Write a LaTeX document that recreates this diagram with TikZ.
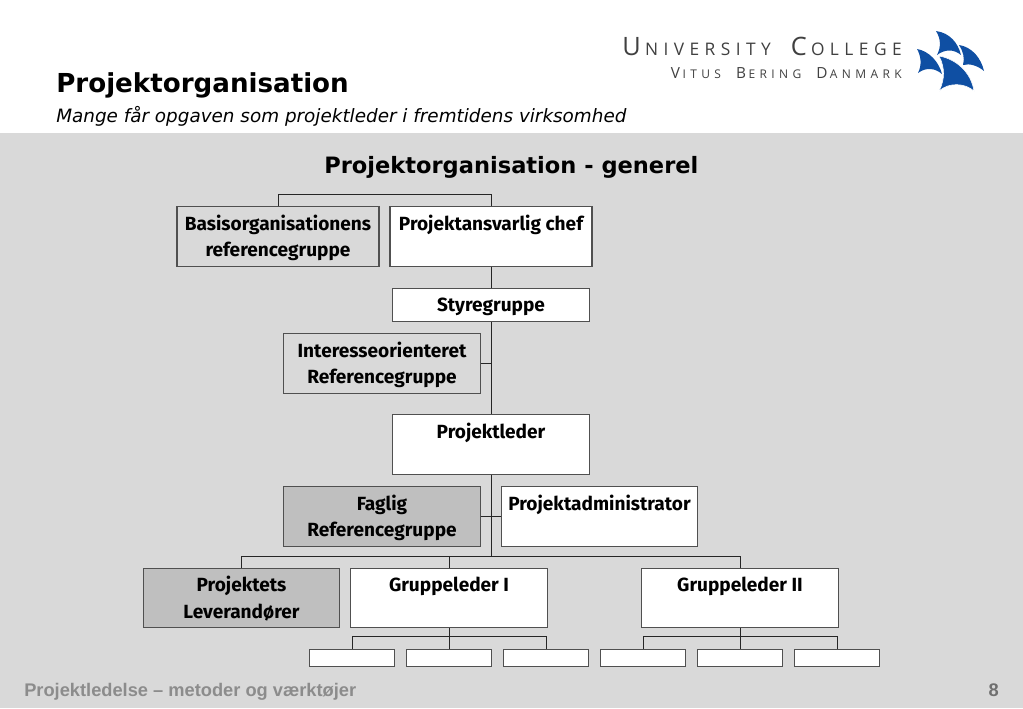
\documentclass[tikz,border=0pt]{standalone}
\usepackage{fontspec}
\setmainfont{DejaVu Sans}
\newfontfamily\boxfont{Fira Sans}
\newfontfamily\footfont{Liberation Sans}
\newfontfamily\logofont[LetterSpace=31.5]{Open Sans}
\newfontfamily\logofontb[LetterSpace=36.5]{Open Sans}
\definecolor{panel}{HTML}{D9D9D9}
\definecolor{darkbox}{HTML}{BFBFBF}
\definecolor{boxline}{HTML}{505050}
\definecolor{sail}{HTML}{0F4FA3}
\definecolor{foot}{HTML}{8C8C8C}
\definecolor{pagenr}{HTML}{707070}
\definecolor{logotext}{HTML}{404040}
\tikzset{
  orgbox/.style={draw=boxline,line width=.85pt,inner sep=0pt,align=center,text=black,
    font=\boxfont\bfseries\fontsize{14.3}{20}\selectfont},
  big/.style={orgbox,minimum width=147.5pt,minimum height=44.5pt,text height=33.7pt,text depth=3pt},
  wide/.style={big,minimum width=151.5pt},
  wht/.style={fill=white},
  drk/.style={fill=darkbox},
  leaf/.style={draw=boxline,line width=.85pt,inner sep=0pt,wht,minimum width=64pt,minimum height=12.75pt},
  link/.style={line width=.75pt,draw=black!85},
  plain/.style={inner sep=0pt,anchor=base west},
  seil/.style={fill=sail,draw=white,line width=.4pt},
}
\begin{document}
\begin{tikzpicture}[x=.75pt,y=-.75pt]
\useasboundingbox (0,0) rectangle (1023,708);
\fill[white] (0,0) rectangle (1023,133);
\fill[panel] (0,133) rectangle (1023,708);

% header
\node[plain,font=\bfseries\fontsize{19.6}{24}\selectfont] (title) at (56,92) {Projektorganisation};
\node[plain,font=\itshape\fontsize{13.78}{16}\selectfont] (subtitle) at (56,122) {Mange får opgaven som projektleder i fremtidens virksomhed};
\node[plain,font=\bfseries\fontsize{16.9}{20}\selectfont] (heading) at (324,173) {Projektorganisation - generel};

% logo
\node[inner sep=0pt,anchor=base east,text=logotext,font=\logofont] (logo1) at (902,55)
  {\fontsize{19}{20}\selectfont U\,\fontsize{13}{20}\selectfont NIVERSITY \ \fontsize{19}{20}\selectfont C\,\fontsize{13}{20}\selectfont OLLEGE};
\node[inner sep=0pt,anchor=base east,text=logotext,font=\logofontb] (logo2) at (902,78)
  {\fontsize{11.5}{20}\selectfont V\,\fontsize{9}{20}\selectfont ITUS \ \fontsize{11.5}{20}\selectfont B\,\fontsize{9}{20}\selectfont ERING \ \fontsize{11.5}{20}\selectfont D\,\fontsize{9}{20}\selectfont ANMARK};
\fill[sail] (936,31) .. controls (950,33) and (958,43) .. (961,55) .. controls (954,49) and (945,49) .. (937,55) .. controls (941,47) and (941,39) .. (936,31) -- cycle;
\fill[sail] (959,45) .. controls (972,47) and (981,58) .. (984,71) .. controls (978,66) and (970,63) .. (963,65) .. controls (965,58) and (963,51) .. (959,45) -- cycle;
\fill[sail] (917,49) .. controls (929,51) and (939,62) .. (942,74) .. controls (935,68) and (926,67) .. (918,73) .. controls (922,65) and (921,56) .. (917,49) -- cycle;
\path[seil] (939,56) .. controls (956,59) and (971,72) .. (974,91) .. controls (965,83) and (949,82) .. (939,91) .. controls (945,80) and (945,67) .. (939,56) -- cycle;

% boxes
\node[wide] (basis) at (278,236.5) {Basisorganisationens\\referencegruppe};
\node[wide,wht] (chef) at (491,236.5) {Projektansvarlig chef\\~};
\node[orgbox,wht,minimum width=147.5pt,minimum height=25pt,execute at begin node={\rule{0pt}{13pt}}] (styre) at (491,305) {Styregruppe};
\node[big] (interesse) at (382,363.5) {Interesseorienteret\\Referencegruppe};
\node[big,wht] (leder) at (491,444.5) {Projektleder\\~};
\node[big,drk] (faglig) at (382,516.5) {Faglig\\Referencegruppe};
\node[big,wht] (admin) at (599.5,516.5) {Projektadministrator\\~};
\node[big,drk] (lever) at (241.5,598) {Projektets\\Leverandører};
\node[big,wht] (gr1) at (449,598) {Gruppeleder I\\~};
\node[big,wht] (gr2) at (740,598) {Gruppeleder II\\~};

\node[leaf] (a1) at (352,658) {};
\node[leaf] (a2) at (449,658) {};
\node[leaf] (a3) at (546,658) {};
\node[leaf] (b1) at (643,658) {};
\node[leaf] (b2) at (740,658) {};
\node[leaf] (b3) at (837,658) {};

% connectors
\coordinate (bus) at (491,556);
\draw[link] (basis.north) -- ++(0,-12) -| (chef.north);
\draw[link] (chef.south) -- (styre.north);
\draw[link] (styre.south) -- (leder.north);
\draw[link] (interesse.east) -- (interesse.east -| leder.north);
\draw[link] (leder.south) -- (bus);
\draw[link] (faglig.east) -- (admin.west);
\draw[link] (lever.north) |- (bus) -| (gr2.north);
\draw[link] (gr1.north) -- (gr1.north |- bus);
\draw[link] (gr1.south) -- (a2.north);
\draw[link] (a1.north) -- ++(0,-12) -| (a3.north);
\draw[link] (gr2.south) -- (b2.north);
\draw[link] (b1.north) -- ++(0,-12) -| (b3.north);

% footer
\node[plain,text=foot,font=\footfont\bfseries\fontsize{13.7}{15}\selectfont] (footer) at (24,696) {Projektledelse – metoder og værktøjer};
\node[inner sep=0pt,anchor=base east,text=pagenr,font=\footfont\bfseries\fontsize{13.7}{15}\selectfont] (page) at (999,696) {8};
\end{tikzpicture}
\end{document}
